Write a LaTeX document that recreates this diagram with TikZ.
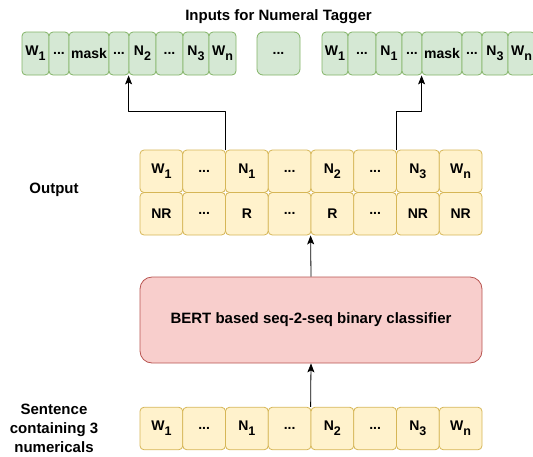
\documentclass[tikz,border=0pt]{standalone}
\usepackage{fontspec}
\setmainfont{Liberation Sans}
\usetikzlibrary{arrows.meta}
\definecolor{yfill}{HTML}{FFF2CC}
\definecolor{ydraw}{HTML}{D6B656}
\definecolor{gfill}{HTML}{D5E8D4}
\definecolor{gdraw}{HTML}{82B366}
\definecolor{rfill}{HTML}{F8CECC}
\definecolor{rdraw}{HTML}{B85450}
\newcommand{\lo}[1]{\raisebox{-0.35em}{\fontsize{12.5}{12.5}\selectfont #1}}
\newcommand{\dd}{...}
\begin{document}
\begin{tikzpicture}[x=1pt,y=-1pt,>={Stealth[length=9pt,width=7pt,inset=2pt]}, line join=round,
	font=\fontsize{14}{16}\selectfont\bfseries,
	cell/.style={draw=ydraw,fill=yfill,line width=0.8pt,rounded corners=4pt,minimum width=42.75pt,minimum height=42.5pt,inner sep=0pt},
	tag/.style={draw=gdraw,fill=gfill,line width=0.8pt,rounded corners=4pt,minimum height=43pt,inner sep=0pt},
	lbl/.style={font=\fontsize{15}{19.3}\selectfont\bfseries,align=center}]
	\useasboundingbox (0,0) rectangle (533,456);
	
	% output (two rows) and input sentence
	\foreach \i/\t/\c in {1/W\lo{1}/NR, 2/\dd/\dd, 3/N\lo{1}/R, 4/\dd/\dd, 5/N\lo{2}/R, 6/\dd/\dd, 7/N\lo{3}/NR, 8/W\lo{n}/NR}{
		\node[cell] (o\i) at ({140+(\i-0.5)*42.75},171.25) {\t};
		\node[cell] (c\i) at ({140+(\i-0.5)*42.75},213.75) {\c};
		\node[cell] (s\i) at ({140+(\i-0.5)*42.75},428.5) {\t};
	}
	
	% inputs for the tagger
	\foreach \x/\w/\t [count=\i] in {22/27/W\lo{1}, 49/20/\dd, 69/40/mask, 109/20/\dd, 129/27/N\lo{2}, 156/27/\dd, 183/26/N\lo{3}, 209/27/W\lo{n}}
		\node[tag,minimum width={\w pt}] (a\i) at ({\x+\w/2},53.5) {\t};
	\node[tag,minimum width=43pt,rounded corners=6pt] (m) at (278.5,53.5) {\dd};
	\foreach \x/\w/\t [count=\i] in {322/26/W\lo{1}, 348/28/\dd, 376/26/N\lo{1}, 402/20/\dd, 422/40/mask, 462/20/\dd, 482/26/N\lo{3}, 508/27/W\lo{n}}
		\node[tag,minimum width={\w pt}] (b\i) at ({\x+\w/2},53.5) {\t};
	
	\node[draw=rdraw,fill=rfill,line width=0.8pt,rounded corners=12pt,minimum width=342pt,minimum height=86pt,font=\fontsize{15}{18}\selectfont\bfseries] (bert) at (311,320) {BERT based seq-2-seq binary classifier};
	
	\node[lbl] (title) at (278.5,17) {Inputs for Numeral Tagger};
	\node[lbl] (out) at (54,190) {Output};
	\node[lbl] (sent) at (54,428.5) {Sentence\\containing 3\\numericals};
	
	\draw[->,line width=0.8pt] (s5.north west)--(bert.south);
	\draw[->,line width=0.8pt] (bert.north)--(c5.south west);
	\draw[->,line width=0.8pt] (o3.north west)--++(0,-38)-|(a5.south west);
	\draw[->,line width=0.8pt] (o7.north west)--++(0,-38)-|(b5.south west);
\end{tikzpicture}
\end{document}
